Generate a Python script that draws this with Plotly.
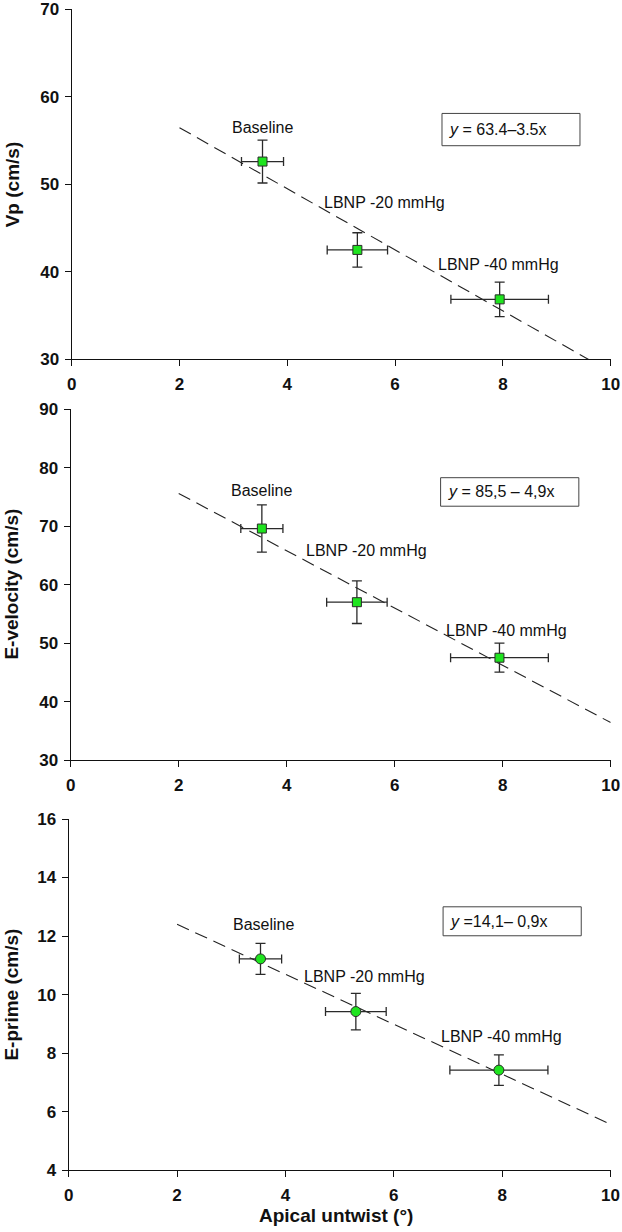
import plotly.graph_objects as go

# ---------------- data ----------------
conditions = ["Baseline", "LBNP -20 mmHg", "LBNP -40 mmHg"]
untwist = [3.54, 5.30, 7.94]
untwist_err = [0.39, 0.56, 0.905]

vp = [52.6, 42.5, 36.85]
vp_err = [2.45, 1.96, 1.97]

evel = [69.6, 57.0, 47.5]
evel_err = [4.05, 3.65, 2.48]

eprime = [11.22, 9.42, 7.42]
eprime_err = [0.53, 0.625, 0.52]

# regression lines (intercept, slope) as drawn
fit_vp = (63.45, -3.49)
fit_evel = (85.4, -4.9)
fit_eprime = (14.11, -0.854)
fit_x = [2, 10]

eq_vp = "<i>y</i> = 63.4–3.5x"
eq_evel = "<i>y</i> = 85,5 – 4,9x"
eq_eprime = "<i>y</i> =14,1– 0,9x"

x_ticks = [0, 2, 4, 6, 8, 10]
vp_ticks = [30, 40, 50, 60, 70]
evel_ticks = [30, 40, 50, 60, 70, 80, 90]
eprime_ticks = [4, 6, 8, 10, 12, 14, 16]

# label positions (data coords) for condition labels per panel
lab_vp = ([3.54, 5.81, 7.92], [56.5, 47.95, 40.8])
lab_evel = ([3.54, 5.47, 8.07], [76.15, 65.8, 52.2])
lab_eprime = ([3.60, 5.46, 7.99], [12.38, 10.61, 8.56])

# equation boxes (x0, x1, y0, y1) in data coords
box_vp = (6.87, 9.43, 54.41, 58.1)
box_evel = (6.85, 9.41, 73.42, 78.3)
box_eprime = (6.91, 9.46, 12.01, 13.0)

FONT = "Liberation Sans, Arial, sans-serif"
GREEN = "#1fe41f"
DARK = "#2a2a2a"

fig = go.Figure()

panels = [
    ("x", "y", vp, vp_err, fit_vp, "square", 9, lab_vp, box_vp, eq_vp),
    ("x2", "y2", evel, evel_err, fit_evel, "square", 9, lab_evel, box_evel, eq_evel),
    ("x3", "y3", eprime, eprime_err, fit_eprime, "circle", 10, lab_eprime, box_eprime, eq_eprime),
]

annotations = []
shapes = []
for xr, yr, yv, ye, fit, sym, msz, labs, box, eq in panels:
    b0, b1 = fit
    fig.add_trace(go.Scatter(
        x=fit_x, y=[b0 + b1 * xx for xx in fit_x], xaxis=xr, yaxis=yr,
        mode="lines", line=dict(color="#222222", width=1.1, dash="13px,7px"),
        showlegend=False, hoverinfo="skip"))
    fig.add_trace(go.Scatter(
        x=untwist, y=yv, xaxis=xr, yaxis=yr, mode="markers",
        marker=dict(symbol=sym, size=msz, color=GREEN, line=dict(color=DARK, width=1)),
        error_y=dict(type="data", array=ye, visible=True, color=DARK, thickness=1.3, width=5),
        error_x=dict(type="data", array=untwist_err, visible=True, color=DARK, thickness=1.3, width=4.5),
        showlegend=False))
    for name, lx, ly in zip(conditions, labs[0], labs[1]):
        annotations.append(dict(x=lx, y=ly, xref=xr, yref=yr, text=name, showarrow=False,
                                xanchor="center", yanchor="middle",
                                font=dict(family=FONT, size=16, color="#111111")))
    x0, x1, y0, y1 = box
    shapes.append(dict(type="rect", xref=xr, yref=yr, x0=x0, x1=x1, y0=y0, y1=y1,
                       line=dict(color="#444444", width=1), fillcolor="white", layer="above"))
    annotations.append(dict(x=x0, y=(y0 + y1) / 2, xref=xr, yref=yr, text=eq, showarrow=False,
                            xanchor="left", yanchor="middle", xshift=5,
                            font=dict(family=FONT, size=16, color="#111111")))

# axis titles
annotations += [
    dict(x=12 / 622, y=1 - 184.3 / 1232, xref="paper", yref="paper", text="<b>Vp (cm/s)</b>",
         textangle=-90, showarrow=False, xanchor="center", yanchor="middle",
         font=dict(family=FONT, size=19, color="#111111")),
    dict(x=12 / 622, y=1 - 584.6 / 1232, xref="paper", yref="paper", text="<b>E-velocity (cm/s)</b>",
         textangle=-90, showarrow=False, xanchor="center", yanchor="middle",
         font=dict(family=FONT, size=19, color="#111111")),
    dict(x=12 / 622, y=1 - 994.6 / 1232, xref="paper", yref="paper", text="<b>E-prime (cm/s)</b>",
         textangle=-90, showarrow=False, xanchor="center", yanchor="middle",
         font=dict(family=FONT, size=19, color="#111111")),
    dict(x=336 / 622, y=1 - 1215 / 1232, xref="paper", yref="paper", text="<b>Apical untwist (°)</b>",
         showarrow=False, xanchor="center", yanchor="middle",
         font=dict(family=FONT, size=19, color="#111111")),
]

tickfont = dict(family=FONT, size=17, color="#111111", weight="bold")
axcommon = dict(showgrid=False, zeroline=False, showline=True, linecolor="#111111", linewidth=1.3,
                ticks="outside", ticklen=6, tickwidth=1.3, tickcolor="#111111",
                tickfont=tickfont, automargin=False)
xcommon = dict(axcommon, ticklabelstandoff=3)
ycommon = dict(axcommon, ticklabelstandoff=2)

fig.update_layout(
    width=622, height=1232,
    margin=dict(l=0, r=0, t=0, b=0),
    paper_bgcolor="white", plot_bgcolor="white",
    showlegend=False,
    xaxis=dict(domain=[71.7 / 622, 610.7 / 622], range=[0, 10], tickvals=x_ticks, anchor="y", **xcommon),
    yaxis=dict(domain=[1 - 359.3 / 1232, 1 - 9.3 / 1232], range=[30, 70], tickvals=vp_ticks, anchor="x", **ycommon),
    xaxis2=dict(domain=[70.7 / 622, 610.7 / 622], range=[0, 10], tickvals=x_ticks, anchor="y2", **xcommon),
    yaxis2=dict(domain=[1 - 760 / 1232, 1 - 409.3 / 1232], range=[30, 90], tickvals=evel_ticks, anchor="x2", **ycommon),
    xaxis3=dict(domain=[68.7 / 622, 610.5 / 622], range=[0, 10], tickvals=x_ticks, anchor="y3", **xcommon),
    yaxis3=dict(domain=[1 - 1170.2 / 1232, 1 - 819 / 1232], range=[4, 16], tickvals=eprime_ticks, anchor="x3", **ycommon),
    annotations=annotations,
    shapes=shapes,
)

fig.write_html("out.html", config={"displayModeBar": False},
               post_script="document.body.style.margin='0';document.body.style.padding='0';")
